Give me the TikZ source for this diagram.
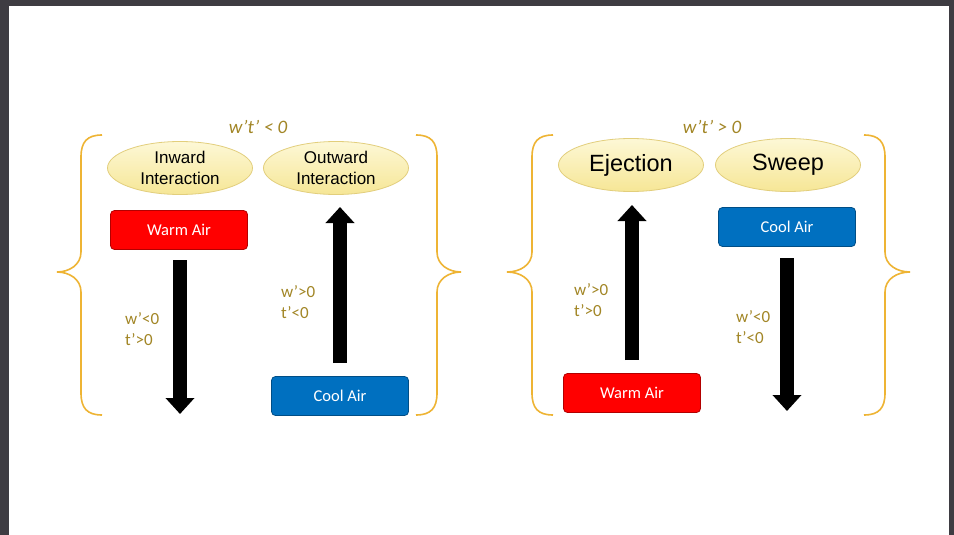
\documentclass[tikz,border=0pt]{standalone}
\usepackage{fontspec}
\setmainfont{Liberation Sans}
\newfontfamily\calfont{Carlito}
\usetikzlibrary{arrows.meta,shapes.geometric}

\definecolor{framegray}{RGB}{62,60,66}
\definecolor{labgold}{RGB}{162,134,38}
\definecolor{bracegold}{RGB}{238,180,52}
\definecolor{elltop}{RGB}{253,248,214}
\definecolor{ellbot}{RGB}{246,230,150}
\definecolor{ellline}{RGB}{226,206,124}
\definecolor{warmred}{RGB}{255,0,0}
\definecolor{coolblue}{RGB}{0,112,192}

\begin{document}
\begin{tikzpicture}[x=1pt,y=-1pt,
	event/.style={ellipse, draw=ellline, top color=elltop, bottom color=ellbot, line width=0.8pt, minimum width=145pt, minimum height=53pt, inner sep=0pt, align=center, font=\fontsize{17}{21}\selectfont},
	bigevent/.style={event, font=\fontsize{23.5}{26}\selectfont},
	air/.style={rectangle, rounded corners=4pt, minimum width=137pt, minimum height=39pt, line width=0.8pt, text=white, font=\calfont\fontsize{16.5}{20}\selectfont},
	warm/.style={air, fill=warmred, draw=red!70!black},
	cool/.style={air, fill=coolblue, draw=coolblue!70!black},
	flux/.style={text=labgold, align=left, inner sep=0pt, font=\calfont\fontsize{17}{20.5}\selectfont},
	sign/.style={text=labgold, inner sep=0pt, font=\calfont\itshape\fontsize{19}{22}\selectfont},
	bracepen/.style={draw=bracegold, line width=1.6pt},
	flowarrow/.style={line width=14pt, -{Triangle[width=28pt,length=16pt]}}]
	
	%frame
	\fill[framegray] (0,0) rectangle (954,535);
	\fill[white] (9,6) rectangle (949,535);
	
	%Left panel: w't' < 0
	\node[sign] (negsign) at (258,127) {w’t’ < 0};
	\def\x{81}
	\draw[bracepen] (\x+21,135) .. controls (\x+6,135) and (\x,142) .. (\x,157) -- (\x,252) .. controls (\x,265) and (\x-12,272) .. (\x-24,272) .. controls (\x-12,272) and (\x,279) .. (\x,292) -- (\x,393) .. controls (\x,408) and (\x+6,415) .. (\x+21,415);
	\def\x{437}
	\draw[bracepen] (\x-21,135) .. controls (\x-6,135) and (\x,142) .. (\x,157) -- (\x,252) .. controls (\x,265) and (\x+12,272) .. (\x+24,272) .. controls (\x+12,272) and (\x,279) .. (\x,292) -- (\x,393) .. controls (\x,408) and (\x-6,415) .. (\x-21,415);
	
	\node[event] (inward) at (180,168) {Inward\\Interaction};
	\node[event] (outward) at (336,168) {Outward\\Interaction};
	
	\node[warm] (warmin) at (179,230) {Warm Air};
	\node[cool] (coolout) at (340,396) {Cool Air};
	
	\coordinate (inwardtop) at (180,260);
	\coordinate (inwardtip) at (180,414);
	\draw[flowarrow] (inwardtop) -- (inwardtip);
	\coordinate (outwardbot) at (340,363);
	\coordinate (outwardtip) at (340,207);
	\draw[flowarrow] (outwardbot) -- (outwardtip);
	
	\node[flux, anchor=west] (inwardlab) at (125,329) {w’<0\\t’>0};
	\node[flux, anchor=west] (outwardlab) at (281,302) {w’>0\\t’<0};
	
	%Right panel: w't' > 0
	\node[sign] (possign) at (712,127) {w’t’ > 0};
	\def\x{532}
	\draw[bracepen] (\x+21,135) .. controls (\x+6,135) and (\x,142) .. (\x,157) -- (\x,252) .. controls (\x,265) and (\x-12,272) .. (\x-25,272) .. controls (\x-12,272) and (\x,279) .. (\x,292) -- (\x,393) .. controls (\x,408) and (\x+6,415) .. (\x+21,415);
	\def\x{885}
	\draw[bracepen] (\x-21,135) .. controls (\x-6,135) and (\x,142) .. (\x,157) -- (\x,252) .. controls (\x,265) and (\x+12,272) .. (\x+25,272) .. controls (\x+12,272) and (\x,279) .. (\x,292) -- (\x,393) .. controls (\x,408) and (\x-6,415) .. (\x-21,415);
	
	\node[bigevent] (ejection) at (631,165) {Ejection};
	\node[bigevent] (sweep) at (788,165) {Sweep};
	
	\node[warm] (warmej) at (632,393) {Warm Air};
	\node[cool] (coolsw) at (787,227) {Cool Air};
	
	\coordinate (ejectionbot) at (632,360);
	\coordinate (ejectiontip) at (632,205);
	\draw[flowarrow] (ejectionbot) -- (ejectiontip);
	\coordinate (sweeptop) at (787,258);
	\coordinate (sweeptip) at (787,411);
	\draw[flowarrow] (sweeptop) -- (sweeptip);
	
	\node[flux, anchor=west] (ejectionlab) at (574,300) {w’>0\\t’>0};
	\node[flux, anchor=west] (sweeplab) at (736,327) {w’<0\\t’<0};
\end{tikzpicture}
\end{document}
